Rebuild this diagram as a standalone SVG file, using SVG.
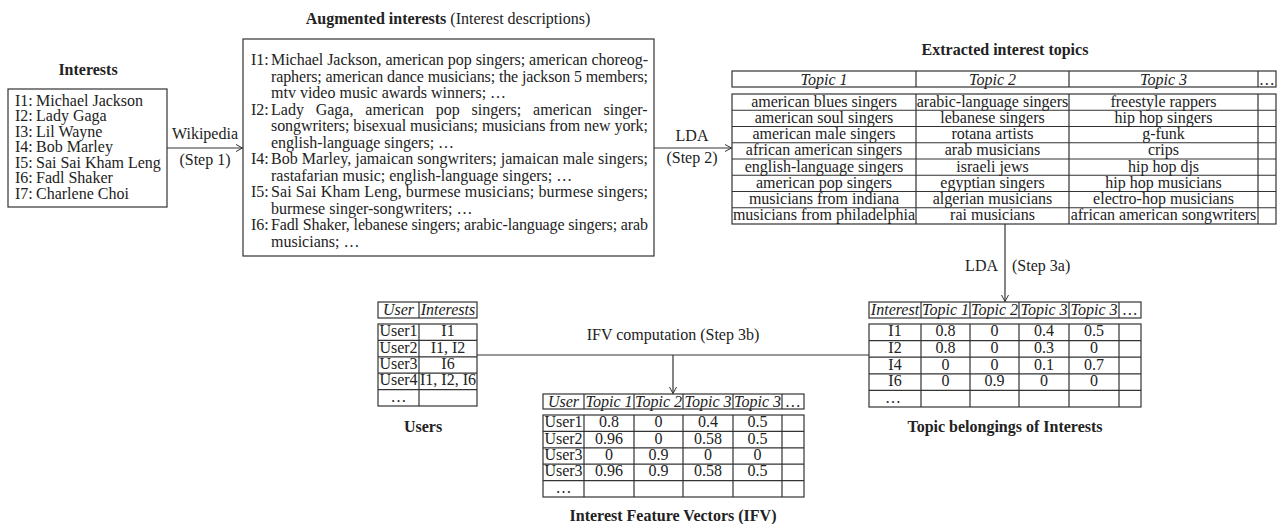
<svg xmlns="http://www.w3.org/2000/svg" width="1277" height="524" viewBox="0 0 1277 524">
<style>
.t{font-family:"Liberation Serif","Times New Roman",serif;font-size:16px;fill:#222}
.b{font-weight:bold}
.i{font-style:italic}
.c{text-anchor:middle}
.e{text-anchor:end}
.box{fill:none;stroke:#333;stroke-width:1.2}
.ln{fill:none;stroke:#333;stroke-width:1.2}
</style>
<defs>
<marker id="arr" markerUnits="userSpaceOnUse" markerWidth="10" markerHeight="10" refX="7" refY="4" orient="auto">
<path d="M0.5,0.5 L7,4 L0.5,7.5" fill="none" stroke="#333" stroke-width="1"/>
</marker>
</defs>
<rect width="1277" height="524" fill="#fff"/>

<g id="interests">
<text class="t b c" x="88" y="75">Interests</text>
<rect class="box" x="8" y="89" width="159" height="118"/>
<g class="t">
<text x="15" y="105.5">I1:</text><text x="36" y="105.5">Michael Jackson</text>
<text x="15" y="121">I2:</text><text x="36" y="121">Lady Gaga</text>
<text x="15" y="136.5">I3:</text><text x="36" y="136.5">Lil Wayne</text>
<text x="15" y="152">I4:</text><text x="36" y="152">Bob Marley</text>
<text x="15" y="167.5">I5:</text><text x="36" y="167.5">Sai Sai Kham Leng</text>
<text x="15" y="183">I6:</text><text x="36" y="183">Fadl Shaker</text>
<text x="15" y="198.5">I7:</text><text x="36" y="198.5">Charlene Choi</text>
</g>
</g>

<g id="augmented">
<text class="t c" x="448" y="24"><tspan class="b">Augmented interests</tspan> (Interest descriptions)</text>
<rect class="box" x="243" y="39" width="411" height="217"/>
<g class="t">
<text x="251" y="65">I1:</text>
<text x="271" y="65" textLength="377" lengthAdjust="spacing">Michael Jackson, american pop singers; american choreog-</text>
<text x="271" y="81.5" textLength="377" lengthAdjust="spacing">raphers; american dance musicians; the jackson 5 members;</text>
<text x="271" y="98">mtv video music awards winners; …</text>
<text x="251" y="114.5">I2:</text>
<text y="114.5"><tspan x="271">Lady</tspan><tspan x="315.7">Gaga,</tspan><tspan x="365.3">american</tspan><tspan x="435.7">pop</tspan><tspan x="471.5">singers;</tspan><tspan x="533.1">american</tspan><tspan x="603.5">singer-</tspan></text>
<text x="271" y="131" textLength="377" lengthAdjust="spacing">songwriters; bisexual musicians; musicians from new york;</text>
<text x="271" y="147.5">english-language singers; …</text>
<text x="251" y="164">I4:</text>
<text x="271" y="164" textLength="377" lengthAdjust="spacing">Bob Marley, jamaican songwriters; jamaican male singers;</text>
<text x="271" y="180.5">rastafarian music; english-language singers; …</text>
<text x="251" y="197">I5:</text>
<text x="271" y="197" textLength="377" lengthAdjust="spacing">Sai Sai Kham Leng, burmese musicians; burmese singers;</text>
<text x="271" y="213.5">burmese singer-songwriters; …</text>
<text x="251" y="230">I6:</text>
<text x="271" y="230" textLength="377" lengthAdjust="spacing">Fadl Shaker, lebanese singers; arabic-language singers; arab</text>
<text x="271" y="246.5">musicians; …</text>
</g>
</g>

<g id="topics">
<text class="t b c" x="1005" y="55">Extracted interest topics</text>
<rect class="box" x="732" y="71" width="544" height="16"/>
<rect class="box" x="732" y="94" width="544" height="130"/>
<path class="ln" d="M916,71V87M1069,71V87M1258,71V87M916,94V224M1069,94V224M1258,94V224M732,110.25H1276M732,126.5H1276M732,142.75H1276M732,159H1276M732,175.25H1276M732,191.5H1276M732,207.75H1276"/>
<g class="t i c">
<text x="824" y="84.5">Topic 1</text>
<text x="992.5" y="84.5">Topic 2</text>
<text x="1163.5" y="84.5">Topic 3</text>
<text x="1267" y="84.5">…</text>
</g>
<g class="t c">
<text x="824" y="106.6">american blues singers</text>
<text x="992.5" y="106.6">arabic-language singers</text>
<text x="1163.5" y="106.6">freestyle rappers</text>
<text x="824" y="122.9">american soul singers</text>
<text x="992.5" y="122.9">lebanese singers</text>
<text x="1163.5" y="122.9">hip hop singers</text>
<text x="824" y="139.1">american male singers</text>
<text x="992.5" y="139.1">rotana artists</text>
<text x="1163.5" y="139.1">g-funk</text>
<text x="824" y="155.4">african american singers</text>
<text x="992.5" y="155.4">arab musicians</text>
<text x="1163.5" y="155.4">crips</text>
<text x="824" y="171.6">english-language singers</text>
<text x="992.5" y="171.6">israeli jews</text>
<text x="1163.5" y="171.6">hip hop djs</text>
<text x="824" y="187.9">american pop singers</text>
<text x="992.5" y="187.9">egyptian singers</text>
<text x="1163.5" y="187.9">hip hop musicians</text>
<text x="824" y="204.1">musicians from indiana</text>
<text x="992.5" y="204.1">algerian musicians</text>
<text x="1163.5" y="204.1">electro-hop musicians</text>
<text x="824" y="220.4">musicians from philadelphia</text>
<text x="992.5" y="220.4">rai musicians</text>
<text x="1163.5" y="220.4">african american songwriters</text>
</g>
</g>

<g id="belongings">
<rect class="box" x="869" y="302" width="272" height="16"/>
<rect class="box" x="869" y="324" width="272" height="83"/>
<path class="ln" d="M921,302V318M970,302V318M1019,302V318M1069,302V318M1119,302V318M921,324V407M970,324V407M1019,324V407M1069,324V407M1119,324V407M869,340.6H1141M869,357.2H1141M869,373.8H1141M869,390.4H1141"/>
<g class="t i c">
<text x="895" y="315">Interest</text>
<text x="945.5" y="315">Topic 1</text>
<text x="994.5" y="315">Topic 2</text>
<text x="1044" y="315">Topic 3</text>
<text x="1094" y="315">Topic 3</text>
<text x="1130" y="315">…</text>
</g>
<g class="t c">
<text x="895" y="336.3">I1</text><text x="945.5" y="336.3">0.8</text><text x="994.5" y="336.3">0</text><text x="1044" y="336.3">0.4</text><text x="1094" y="336.3">0.5</text>
<text x="895" y="352.9">I2</text><text x="945.5" y="352.9">0.8</text><text x="994.5" y="352.9">0</text><text x="1044" y="352.9">0.3</text><text x="1094" y="352.9">0</text>
<text x="895" y="369.5">I4</text><text x="945.5" y="369.5">0</text><text x="994.5" y="369.5">0</text><text x="1044" y="369.5">0.1</text><text x="1094" y="369.5">0.7</text>
<text x="895" y="386.1">I6</text><text x="945.5" y="386.1">0</text><text x="994.5" y="386.1">0.9</text><text x="1044" y="386.1">0</text><text x="1094" y="386.1">0</text>
<text x="893" y="402.7">…</text>
</g>
<text class="t b c" x="1005" y="432">Topic belongings of Interests</text>
</g>

<g id="users">
<rect class="box" x="378" y="302" width="99" height="16"/>
<rect class="box" x="378" y="324" width="99" height="82"/>
<path class="ln" d="M419,302V318M419,324V406M378,340.4H477M378,356.8H477M378,373.2H477M378,389.6H477"/>
<g class="t i c">
<text x="398.5" y="315">User</text>
<text x="448" y="315">Interests</text>
</g>
<g class="t c">
<text x="398.5" y="336.2">User1</text><text x="448" y="336.2">I1</text>
<text x="398.5" y="352.6">User2</text><text x="448" y="352.6">I1, I2</text>
<text x="398.5" y="369">User3</text><text x="448" y="369">I6</text>
<text x="398.5" y="385.4">User4</text><text x="448" y="385.4">I1, I2, I6</text>
<text x="398.5" y="401.8">…</text>
</g>
<text class="t b c" x="423" y="432">Users</text>
</g>

<g id="ifv">
<rect class="box" x="543" y="394" width="261" height="15"/>
<rect class="box" x="543" y="415" width="261" height="82"/>
<path class="ln" d="M584,394V409M634,394V409M683,394V409M733,394V409M782,394V409M584,415V497M634,415V497M683,415V497M733,415V497M782,415V497M543,431.4H804M543,447.8H804M543,464.2H804M543,480.6H804"/>
<g class="t i c">
<text x="563.5" y="406.5">User</text>
<text x="609" y="406.5">Topic 1</text>
<text x="658.5" y="406.5">Topic 2</text>
<text x="708" y="406.5">Topic 3</text>
<text x="757.5" y="406.5">Topic 3</text>
<text x="793" y="406.5">…</text>
</g>
<g class="t c">
<text x="563.5" y="427.2">User1</text><text x="609" y="427.2">0.8</text><text x="658.5" y="427.2">0</text><text x="708" y="427.2">0.4</text><text x="757.5" y="427.2">0.5</text>
<text x="563.5" y="443.6">User2</text><text x="609" y="443.6">0.96</text><text x="658.5" y="443.6">0</text><text x="708" y="443.6">0.58</text><text x="757.5" y="443.6">0.5</text>
<text x="563.5" y="460">User3</text><text x="609" y="460">0</text><text x="658.5" y="460">0.9</text><text x="708" y="460">0</text><text x="757.5" y="460">0</text>
<text x="563.5" y="476.4">User3</text><text x="609" y="476.4">0.96</text><text x="658.5" y="476.4">0.9</text><text x="708" y="476.4">0.58</text><text x="757.5" y="476.4">0.5</text>
<text x="563.5" y="492.8">…</text>
</g>
<text class="t b c" x="673" y="521">Interest Feature Vectors (IFV)</text>
</g>

<g id="connectors">
<line class="ln" x1="167" y1="148" x2="242.5" y2="148" marker-end="url(#arr)"/>
<text class="t c" x="205" y="139">Wikipedia</text>
<text class="t c" x="205" y="165">(Step 1)</text>
<line class="ln" x1="654" y1="148" x2="731.5" y2="148" marker-end="url(#arr)"/>
<text class="t c" x="692" y="141">LDA</text>
<text class="t c" x="692" y="163">(Step 2)</text>
<line class="ln" x1="1005" y1="224" x2="1005" y2="301.5" marker-end="url(#arr)"/>
<text class="t e" x="998" y="271">LDA</text>
<text class="t" x="1012" y="271">(Step 3a)</text>
<line class="ln" x1="477" y1="355" x2="869" y2="355"/>
<line class="ln" x1="673" y1="355" x2="673" y2="393.5" marker-end="url(#arr)"/>
<text class="t c" x="673" y="340">IFV computation (Step 3b)</text>
</g>
</svg>
